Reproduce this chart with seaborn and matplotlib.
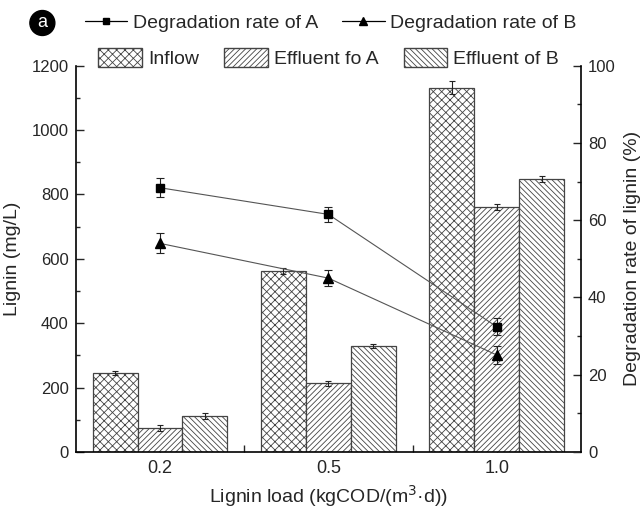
import pandas as pd
import numpy as np
import matplotlib
matplotlib.use("Agg")
import matplotlib.pyplot as plt
import matplotlib.patches as mpatches
from matplotlib.lines import Line2D
from matplotlib.ticker import MultipleLocator, FixedLocator
import seaborn as sns

# ── Data ──────────────────────────────────────────────────────────────────────
loads = ["0.2", "0.5", "1.0"]
series = ["Inflow", "Effluent fo A", "Effluent of B"]

inflow       = [246, 563, 1132]
effluent_a   = [75, 213, 761]
effluent_b   = [112, 330, 848]
inflow_err   = [7, 10, 20]
effluent_a_err = [10, 7, 10]
effluent_b_err = [10, 6, 8]

rate_a     = [68.4, 61.5, 32.4]
rate_b     = [54.0, 45.0, 25.1]
rate_a_err = [2.5, 2.0, 2.2]
rate_b_err = [2.6, 2.0, 2.4]

hatches = ["xxxx", "//////", "\\\\\\\\\\\\"]

df = pd.DataFrame({
    "load":   loads * 3,
    "series": [s for s in series for _ in loads],
    "value":  inflow + effluent_a + effluent_b,
})
errs = [inflow_err, effluent_a_err, effluent_b_err]

# ── Style ─────────────────────────────────────────────────────────────────────
sns.set_theme(style="ticks")
plt.rcParams["font.family"] = ["Liberation Sans", "DejaVu Sans"]
plt.rcParams["hatch.linewidth"] = 0.6
plt.rcParams["hatch.color"] = "#333333"
plt.rcParams["xtick.direction"] = "in"
plt.rcParams["ytick.direction"] = "in"

fig = plt.figure(figsize=(6.42, 5.11), dpi=100)
ax = fig.add_axes([0.118, 0.1155, 0.787, 0.756])

sns.barplot(data=df, x="load", y="value", hue="series", order=loads,
            hue_order=series, color="white", saturation=1, errorbar=None,
            edgecolor="#444444", linewidth=0.9, legend=False, ax=ax)

for cont, h, e in zip(ax.containers, hatches, errs):
    xs = []
    for bar in cont:
        bar.set_facecolor("white")
        bar.set_hatch(h)
        xs.append(bar.get_x() + bar.get_width() / 2)
    ax.errorbar(xs, [b.get_height() for b in cont], yerr=e, fmt="none",
                ecolor="#222222", elinewidth=0.8, capsize=2.5, capthick=0.8, zorder=5)

ax.set_ylim(0, 1200)
ax.set_xlim(-0.5, 2.5)
ax.yaxis.set_major_locator(MultipleLocator(200))
ax.yaxis.set_minor_locator(MultipleLocator(100))
ax.xaxis.set_minor_locator(FixedLocator([0.5, 1.5]))
ax.tick_params(axis="y", which="major", direction="in", length=6, width=1, labelsize=12, pad=5)
ax.tick_params(axis="y", which="minor", direction="in", length=3, width=1)
ax.tick_params(axis="x", which="major", direction="in", length=2, width=1, labelsize=13, pad=6)
ax.tick_params(axis="x", which="minor", direction="in", length=5, width=1)
ax.set_ylabel("Lignin (mg/L)", fontsize=14, labelpad=8)
ax.set_xlabel("Lignin load (kgCOD/(m$^3$·d))", fontsize=14, labelpad=4)
ax.spines["top"].set_visible(False)
ax.spines["right"].set_visible(False)
for s in ["left", "bottom"]:
    ax.spines[s].set_linewidth(1.2)
    ax.spines[s].set_color("black")

# ── Degradation rate on right axis ────────────────────────────────────────────
ax2 = ax.twinx()
xpos = np.arange(len(loads))
ax2.plot(xpos, rate_a, color="#555555", linewidth=0.8, zorder=3)
ax2.plot(xpos, rate_b, color="#555555", linewidth=0.8, zorder=3)
ax2.errorbar(xpos, rate_a, yerr=rate_a_err, fmt="s", color="black", markersize=6,
             ecolor="#222222", elinewidth=0.8, capsize=3, capthick=0.8, zorder=4)
ax2.errorbar(xpos, rate_b, yerr=rate_b_err, fmt="^", color="black", markersize=7,
             ecolor="#222222", elinewidth=0.8, capsize=3, capthick=0.8, zorder=4)
ax2.set_ylim(0, 100)
ax2.yaxis.set_major_locator(MultipleLocator(20))
ax2.yaxis.set_minor_locator(MultipleLocator(10))
ax2.tick_params(axis="y", which="major", direction="in", length=6, width=1, labelsize=12, pad=5)
ax2.tick_params(axis="y", which="minor", direction="in", length=3, width=1)
ax2.set_ylabel("Degradation rate of lignin (%)", fontsize=14, labelpad=6)
ax2.spines["top"].set_visible(False)
ax2.spines["left"].set_visible(False)
ax2.spines["bottom"].set_visible(False)
ax2.spines["right"].set_linewidth(1.2)
ax2.spines["right"].set_color("black")

# ── Legends above the plot ────────────────────────────────────────────────────
line_handles = [
    Line2D([0], [0], color="black", linewidth=0.9, marker="s", markersize=5,
           label="Degradation rate of A"),
    Line2D([0], [0], color="black", linewidth=0.9, marker="^", markersize=6,
           label="Degradation rate of B"),
]
fig.legend(handles=line_handles, loc="center", bbox_to_anchor=(0.515, 0.955),
           ncol=2, frameon=False, fontsize=14, numpoints=1, handlelength=2.2,
           handletextpad=0.3, columnspacing=1.2)

bar_handles = [
    mpatches.Patch(facecolor="white", edgecolor="#444444", hatch=h, label=s)
    for s, h in zip(series, hatches)
]
fig.legend(handles=bar_handles, loc="center", bbox_to_anchor=(0.512, 0.886),
           ncol=3, frameon=False, fontsize=14, handlelength=2.25, handleheight=1.1,
           handletextpad=0.3, columnspacing=1.3)

fig.text(0.066, 0.955, "a", ha="center", va="center", color="white", fontsize=13,
         bbox=dict(boxstyle="circle,pad=0.22", facecolor="black", edgecolor="black"))

fig.savefig("out.png", dpi=100)
